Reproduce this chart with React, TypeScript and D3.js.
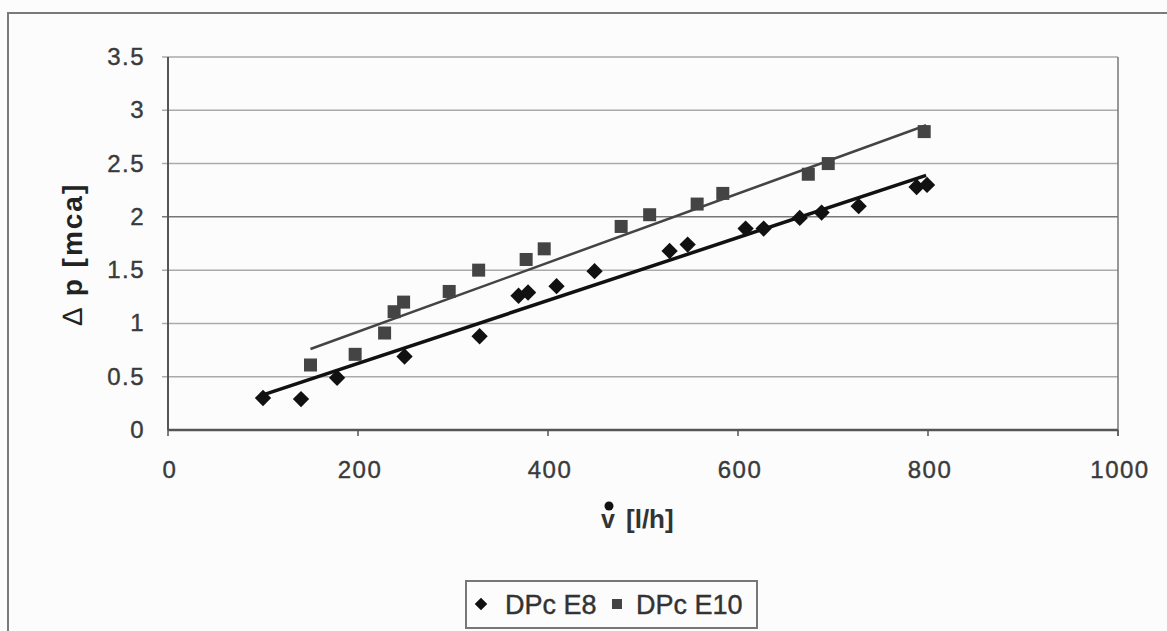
import React from 'react'
import * as d3 from 'd3'

// DPc E8 (diamonds)
const e8Flow = [100, 140, 178, 249, 328, 369, 379, 409, 449, 528, 547, 608, 627, 665, 688, 727, 788, 799]
const e8Dp = [0.3, 0.29, 0.49, 0.69, 0.88, 1.26, 1.29, 1.35, 1.49, 1.68, 1.74, 1.89, 1.89, 1.99, 2.04, 2.1, 2.28, 2.3]

// DPc E10 (squares)
const e10Flow = [150, 197, 228, 238, 248, 296, 327, 377, 396, 477, 507, 557, 584, 674, 695, 796]
const e10Dp = [0.61, 0.71, 0.91, 1.11, 1.2, 1.3, 1.5, 1.6, 1.7, 1.91, 2.02, 2.12, 2.22, 2.4, 2.5, 2.8]

// trend lines
const e8TrendX = [100, 798]
const e8TrendY = [0.33, 2.39]
const e10TrendX = [150, 798]
const e10TrendY = [0.76, 2.86]

const xTicks = [0, 200, 400, 600, 800, 1000]
const yTicks = [0, 0.5, 1, 1.5, 2, 2.5, 3, 3.5]

const W = 1167
const H = 631
const font = '"Liberation Sans", Arial, sans-serif'

export default function App() {
  const x = d3.scaleLinear().domain([0, 1000]).range([168, 1118])
  const y = d3.scaleLinear().domain([0, 3.5]).range([430, 57])

  const line = d3.line<[number, number]>().x(d => x(d[0])).y(d => y(d[1]))
  const diamond = d3.symbol().type(d3.symbolDiamond2).size(170)

  const e8 = e8Flow.map((v, i) => [v, e8Dp[i]] as [number, number])
  const e10 = e10Flow.map((v, i) => [v, e10Dp[i]] as [number, number])
  const t8 = e8TrendX.map((v, i) => [v, e8TrendY[i]] as [number, number])
  const t10 = e10TrendX.map((v, i) => [v, e10TrendY[i]] as [number, number])

  const sq = 13

  return (
    <svg width={W} height={H} style={{ position: 'absolute', left: 0, top: 0, background: '#fcfcfc' }} fontFamily={font}>
      {/* outer frame */}
      <rect x={8} y={13} width={W + 20} height={H + 20} fill="none" stroke="#7a7a7a" strokeWidth={2} />

      {/* grid */}
      {yTicks.map(t => (
        <line key={'g' + t} x1={x(0) - 6} x2={x(1000)} y1={y(t)} y2={y(t)}
          stroke={t === 2 ? '#777' : '#aaa'} strokeWidth={t === 0 ? 0 : 1.5} />
      ))}
      <line x1={x(1000)} x2={x(1000)} y1={y(3.5)} y2={y(0) + 6} stroke="#777" strokeWidth={1.5} />

      {/* axes */}
      <line x1={x(0)} x2={x(0)} y1={y(3.5)} y2={y(0)} stroke="#555" strokeWidth={2} />
      <line x1={x(0)} x2={x(1000)} y1={y(0)} y2={y(0)} stroke="#555" strokeWidth={2.5} />
      {xTicks.map(t => (
        <line key={'xt' + t} x1={x(t)} x2={x(t)} y1={y(0)} y2={y(0) + 6} stroke="#555" strokeWidth={1.5} />
      ))}

      {/* tick labels */}
      {yTicks.map(t => (
        <text key={'yl' + t} x={145} y={y(t) + 8} textAnchor="end" fontSize={24} fill="#3a3a3a" letterSpacing={1.5}
          stroke="#3a3a3a" strokeWidth={0.4}>{t}</text>
      ))}
      {xTicks.map(t => (
        <text key={'xl' + t} x={x(t) + 2} y={478} textAnchor="middle" fontSize={24} fill="#3a3a3a" letterSpacing={1.5}
          stroke="#3a3a3a" strokeWidth={0.4}>{t}</text>
      ))}

      {/* axis titles */}
      <text transform="translate(82,254) rotate(-90)" textAnchor="middle" fontSize={28} fill="#222" fontWeight="bold" letterSpacing={2}>
        <tspan fontWeight="normal">∆</tspan> p [mca]
      </text>
      <circle cx={609} cy={506} r={4.5} fill="#111" />
      <text x={601} y={528} fontSize={25} fill="#333" fontWeight="bold">v</text>
      <text x={626} y={528} fontSize={26} fill="#333" fontWeight="bold">[l/h]</text>

      {/* trend lines */}
      <path d={line(t10) || ''} fill="none" stroke="#444" strokeWidth={2.5} />
      <path d={line(t8) || ''} fill="none" stroke="#111" strokeWidth={3.5} />

      {/* points */}
      {e10.map((d, i) => (
        <rect key={'s' + i} x={x(d[0]) - sq / 2} y={y(d[1]) - sq / 2} width={sq} height={sq} fill="#444" />
      ))}
      {e8.map((d, i) => (
        <path key={'d' + i} d={diamond() || ''} transform={`translate(${x(d[0])},${y(d[1])})`} fill="#111" />
      ))}

      {/* legend */}
      <rect x={466} y={581} width={291} height={47} fill="none" stroke="#777" strokeWidth={2} />
      <path d={d3.symbol().type(d3.symbolDiamond2).size(100)() || ''} transform="translate(481,604)" fill="#111" />
      <text x={505} y={614} fontSize={27} fill="#333" stroke="#333" strokeWidth={0.4}>DPc E8</text>
      <rect x={612} y={599} width={10} height={10} fill="#444" />
      <text x={636} y={614} fontSize={27} fill="#333" stroke="#333" strokeWidth={0.4}>DPc E10</text>
    </svg>
  )
}
